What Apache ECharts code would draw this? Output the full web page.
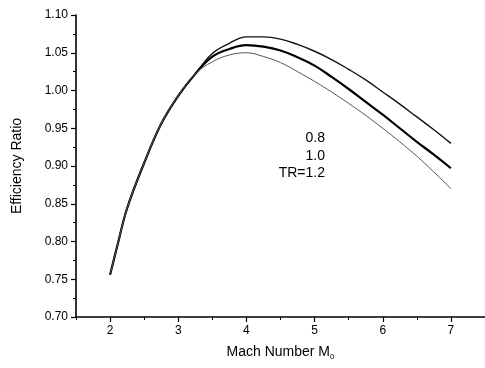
<!DOCTYPE html>
<html>
<head>
<meta charset="utf-8">
<script src="https://cdn.jsdelivr.net/npm/echarts@6/dist/echarts.min.js"></script>
<style>
html,body{margin:0;padding:0;background:#fff;}
#main{width:485px;height:368px;}
</style>
</head>
<body>
<div id="main"></div>
<script>
var mach = [2.0, 2.1, 2.25, 2.5, 2.75, 3.0, 3.25, 3.5, 3.75, 4.0, 4.25, 4.5, 4.75, 5.0, 5.25, 5.5, 5.75, 6.0, 6.25, 6.5, 6.75, 7.0];
var tr08 = [0.756, 0.792, 0.844, 0.904, 0.956, 0.993, 1.022, 1.049, 1.0625, 1.071, 1.071, 1.068, 1.061, 1.052, 1.041, 1.028, 1.014, 0.998, 0.982, 0.965, 0.948, 0.930];
var tr10 = [0.756, 0.792, 0.844, 0.904, 0.956, 0.993, 1.022, 1.045, 1.055, 1.060, 1.058, 1.053, 1.044, 1.033, 1.018, 1.002, 0.985, 0.968, 0.950, 0.932, 0.915, 0.897];
var tr12 = [0.756, 0.792, 0.844, 0.904, 0.956, 0.993, 1.022, 1.038, 1.047, 1.050, 1.045, 1.037, 1.025, 1.012, 0.998, 0.983, 0.967, 0.950, 0.932, 0.913, 0.892, 0.870];
var xMajor = [2, 3, 4, 5, 6, 7];
var xMinor = [1.5, 2.5, 3.5, 4.5, 5.5, 6.5, 7.5];
var curveLabels = ['0.8', '1.0', 'TR=1.2'];

function pairs(ys) { return mach.map(function (m, i) { return [m, ys[i]]; }); }

var chart = echarts.init(document.getElementById('main'), null, {renderer: 'canvas'});
var font = 'Liberation Sans, Arial, sans-serif';
chart.setOption({
  animation: false,
  backgroundColor: '#fff',
  grid: {left: 76, top: 15, right: -2, bottom: 51},
  xAxis: [{
    type: 'value', min: 1.5, max: 7.5,
    name: 'Mach Number M{sub|0}',
    nameLocation: 'middle', nameGap: 26,
    nameTextStyle: {color: '#000', fontFamily: font, fontSize: 14, verticalAlign: 'top',
      rich: {sub: {fontSize: 8, fontFamily: font, color: '#000', padding: [10, 0, 0, 0]}}},
    axisLine: {show: true, lineStyle: {color: '#000', width: 1.6}},
    axisTick: {show: true, customValues: xMajor, length: 5, inside: false, lineStyle: {color: '#000', width: 1.2}},
    axisLabel: {show: true, customValues: xMajor, color: '#000', fontFamily: font, fontSize: 12, margin: 8},
    splitLine: {show: false}
  }, {
    type: 'value', min: 1.5, max: 7.5, position: 'bottom', gridIndex: 0,
    axisLine: {show: false},
    axisTick: {show: true, customValues: xMinor, length: 3, lineStyle: {color: '#000', width: 1}},
    axisLabel: {show: false},
    splitLine: {show: false}
  }],
  yAxis: {
    type: 'value', min: 0.70, max: 1.10, interval: 0.05,
    name: 'Efficiency Ratio', nameLocation: 'middle', nameGap: 52,
    nameTextStyle: {color: '#000', fontFamily: font, fontSize: 14},
    axisLine: {show: true, lineStyle: {color: '#000', width: 1.6}},
    axisTick: {show: true, length: 5, lineStyle: {color: '#000', width: 1.2}},
    minorTick: {show: true, splitNumber: 2, length: 3, lineStyle: {color: '#000', width: 1}},
    axisLabel: {color: '#000', fontFamily: font, fontSize: 12, margin: 8,
      formatter: function (v) { return v.toFixed(2); }},
    splitLine: {show: false}
  },
  series: [
    {type: 'line', name: '0.8', data: pairs(tr08), smooth: 0.4, showSymbol: false,
     lineStyle: {color: '#111', width: 1.4}},
    {type: 'line', name: '1.0', data: pairs(tr10), smooth: 0.4, showSymbol: false,
     lineStyle: {color: '#000', width: 2.2}},
    {type: 'line', name: '1.2', data: pairs(tr12), smooth: 0.4, showSymbol: false,
     lineStyle: {color: '#555', width: 1}}
  ],
  graphic: [
    {type: 'text', right: 485 - 325, top: 131, style: {text: curveLabels[0], fill: '#000', font: '14px ' + font, textAlign: 'right'}},
    {type: 'text', right: 485 - 325, top: 149, style: {text: curveLabels[1], fill: '#000', font: '14px ' + font, textAlign: 'right'}},
    {type: 'text', right: 485 - 325, top: 166, style: {text: curveLabels[2], fill: '#000', font: '14px ' + font, textAlign: 'right'}}
  ]
});
</script>
</body>
</html>
